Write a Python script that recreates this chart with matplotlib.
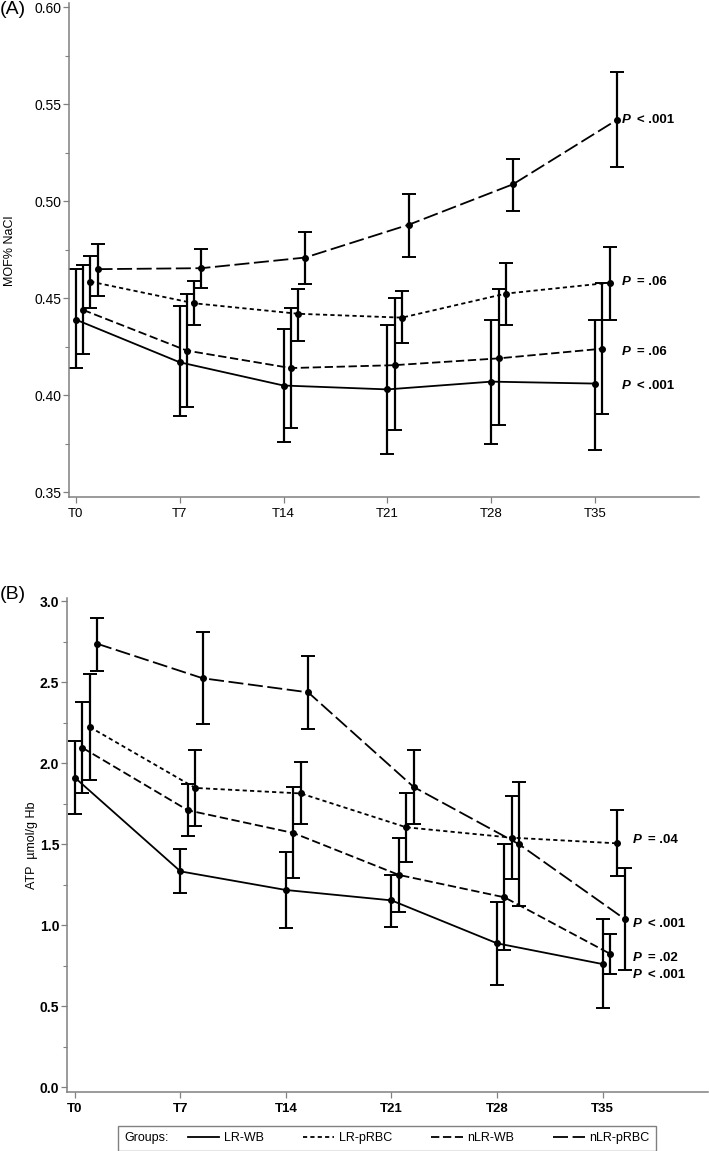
import matplotlib
matplotlib.use("Agg")
import matplotlib.pyplot as plt
from matplotlib.lines import Line2D
from matplotlib.patches import Rectangle
from matplotlib.ticker import MultipleLocator
import numpy as np

plt.rcParams['font.family'] = ['Liberation Sans', 'DejaVu Sans']
plt.rcParams['lines.scale_dashes'] = False

timepoints = ["T0", "T7", "T14", "T21", "T28", "T35"]
groups = ["LR-WB", "LR-pRBC", "nLR-WB", "nLR-pRBC"]

# panel A: MOF (% NaCl), mean with lower / upper CI
mof_lr_wb = [0.439, 0.417, 0.405, 0.403, 0.407, 0.406]
mof_lr_wb_lo = [0.414, 0.3895, 0.376, 0.3695, 0.375, 0.372]
mof_lr_wb_hi = [0.465, 0.446, 0.434, 0.436, 0.439, 0.439]
mof_lr_prbc = [0.4586, 0.4474, 0.442, 0.440, 0.4524, 0.458]
mof_lr_prbc_lo = [0.445, 0.4364, 0.428, 0.4267, 0.436, 0.439]
mof_lr_prbc_hi = [0.472, 0.459, 0.455, 0.4536, 0.468, 0.4766]
mof_nlr_wb = [0.444, 0.423, 0.414, 0.4155, 0.419, 0.424]
mof_nlr_wb_lo = [0.421, 0.394, 0.383, 0.382, 0.3845, 0.3905]
mof_nlr_wb_hi = [0.467, 0.452, 0.445, 0.450, 0.455, 0.458]
mof_nlr_prbc = [0.465, 0.4655, 0.471, 0.488, 0.5088, 0.542]
mof_nlr_prbc_lo = [0.451, 0.4553, 0.4574, 0.4715, 0.4952, 0.5175]
mof_nlr_prbc_hi = [0.478, 0.4753, 0.484, 0.504, 0.522, 0.5667]
mof_pvals = ["< .001", "= .06", "= .06", "< .001"]   # nLR-pRBC, LR-pRBC, nLR-WB, LR-WB
mof_pval_y = [0.542, 0.4585, 0.4225, 0.405]

# panel B: ATP (umol/g Hb)
atp_lr_wb = [1.911, 1.333, 1.218, 1.154, 0.889, 0.761]
atp_lr_wb_lo = [1.685, 1.199, 0.981, 0.991, 0.633, 0.491]
atp_lr_wb_hi = [2.136, 1.473, 1.452, 1.311, 1.142, 1.039]
atp_lr_prbc = [2.224, 1.848, 1.814, 1.605, 1.541, 1.506]
atp_lr_prbc_lo = [1.895, 1.611, 1.623, 1.391, 1.288, 1.306]
atp_lr_prbc_hi = [2.553, 2.084, 2.005, 1.815, 1.800, 1.710]
atp_nlr_wb = [2.096, 1.710, 1.570, 1.311, 1.173, 0.825]
atp_nlr_wb_lo = [1.815, 1.552, 1.290, 1.080, 0.849, 0.699]
atp_nlr_wb_hi = [2.378, 1.872, 1.855, 1.541, 1.500, 0.948]
atp_nlr_prbc = [2.738, 2.525, 2.438, 1.854, 1.500, 1.039]
atp_nlr_prbc_lo = [2.572, 2.243, 2.212, 1.627, 1.117, 0.724]
atp_nlr_prbc_hi = [2.897, 2.809, 2.662, 2.080, 1.883, 1.356]
atp_pvals = ["= .04", "< .001", "= .02", "< .001"]
atp_pval_y = [1.527, 1.009, 0.799, 0.694]

# line style per group: dash pattern (points) and x offset
styles = {
    "LR-WB": dict(dashes=(None, None), offset=0.0),
    "LR-pRBC": dict(dashes=(3.0, 2.3), offset=0.14),
    "nLR-WB": dict(dashes=(6.0, 2.6), offset=0.07),
    "nLR-pRBC": dict(dashes=(10.8, 3.3), offset=0.21),
}

GRAY = "#808080"


def draw_panel(ax, series, pvals, pval_y, ptext_x, ylim, major, minor, bold_ticks):
    x = np.arange(len(timepoints))
    for name, (mean, lo, hi) in zip(groups, series):
        st = styles[name]
        mean = np.array(mean)
        xs = x + st["offset"]
        line, = ax.plot(xs, mean, color="black", lw=1.3)
        if st["dashes"][0] is not None:
            line.set_dashes(st["dashes"])
        ax.errorbar(xs, mean, yerr=[mean - np.array(lo), np.array(hi) - mean],
                    fmt="o", ms=4, color="black", ecolor="black",
                    elinewidth=1.6, capsize=5, capthick=1.4)
    for txt, yv in zip(pvals, pval_y):
        ax.text(ptext_x, yv, "P", fontsize=9.5, fontweight="bold", fontstyle="italic",
                va="center", ha="left")
        ax.annotate(txt, (ptext_x, yv), xytext=(10.5, 0), textcoords="offset points",
                    fontsize=9.5, fontweight="bold", va="center", ha="left")

    ax.set_xlim(-0.06, 6.0)
    ax.set_ylim(*ylim)
    ax.set_xticks(x)
    ax.set_xticklabels(timepoints)
    ax.yaxis.set_major_locator(MultipleLocator(major))
    ax.yaxis.set_minor_locator(MultipleLocator(minor))
    for s in ["top", "right"]:
        ax.spines[s].set_visible(False)
    for s in ["left", "bottom"]:
        ax.spines[s].set_color(GRAY)
        ax.spines[s].set_linewidth(1.1)
    ax.tick_params(which="major", length=4, width=0.9, color=GRAY, labelsize=10, pad=2)
    ax.tick_params(axis="x", labelsize=9.5, pad=4)
    ax.tick_params(which="minor", axis="y", length=3, width=0.8, color=GRAY)
    if bold_ticks:
        for lab in ax.get_xticklabels() + ax.get_yticklabels():
            lab.set_fontweight("bold")


fig = plt.figure(figsize=(7.09, 11.51), dpi=100)

axA = fig.add_axes([0.098, 0.568, 0.888, 0.429])
draw_panel(axA,
           [(mof_lr_wb, mof_lr_wb_lo, mof_lr_wb_hi),
            (mof_lr_prbc, mof_lr_prbc_lo, mof_lr_prbc_hi),
            (mof_nlr_wb, mof_nlr_wb_lo, mof_nlr_wb_hi),
            (mof_nlr_prbc, mof_nlr_prbc_lo, mof_nlr_prbc_hi)],
           mof_pvals, mof_pval_y, 5.26, (0.3474, 0.602), 0.05, 0.025, False)
axA.set_yticklabels([f"{v:.2f}" for v in axA.get_yticks()])
axA.set_ylim(0.3474, 0.602)
axA.set_ylabel("MOF% NaCl", fontsize=9)
axA.yaxis.set_label_coords(-0.085, 0.5)

axB = fig.add_axes([0.0952, 0.0515, 0.9034, 0.4287])
draw_panel(axB,
           [(atp_lr_wb, atp_lr_wb_lo, atp_lr_wb_hi),
            (atp_lr_prbc, atp_lr_prbc_lo, atp_lr_prbc_hi),
            (atp_nlr_wb, atp_nlr_wb_lo, atp_nlr_wb_hi),
            (atp_nlr_prbc, atp_nlr_prbc_lo, atp_nlr_prbc_hi)],
           atp_pvals, atp_pval_y, 5.29, (-0.027, 3.0185), 0.5, 0.25, True)
axB.set_xlim(-0.071, 6.0)
axB.set_ylabel("ATP  µmol/g Hb", fontsize=9)
axB.yaxis.set_label_coords(-0.046, 0.5)

fig.text(0.0, 1 - 1 / 1151, "(A)", fontsize=14, va="top", ha="left")
fig.text(0.0, 1 - 586 / 1151, "(B)", fontsize=14, va="top", ha="left")

# legend box at the bottom
W, H = 709, 1151
fig.patches.append(Rectangle((118 / W, 1 - 1150.5 / H), (656 - 118) / W, 25 / H,
                             transform=fig.transFigure, fill=False,
                             edgecolor=GRAY, lw=1.0))
fig.text(124 / W, 1 - 1138 / H, "Groups:", fontsize=9, va="center", ha="left")
handles = []
for name in groups:
    h = Line2D([], [], color="black", lw=1.3)
    if styles[name]["dashes"][0] is not None:
        h.set_dashes(styles[name]["dashes"])
    handles.append(h)
fig.legend(handles, groups, ncol=4, loc="center left",
           bbox_to_anchor=(188 / W, 1 - 1138 / H), frameon=False, fontsize=9,
           handlelength=2.5, handletextpad=0.4, columnspacing=3.1,
           borderpad=0, borderaxespad=0)

fig.savefig("out.png", dpi=100)
